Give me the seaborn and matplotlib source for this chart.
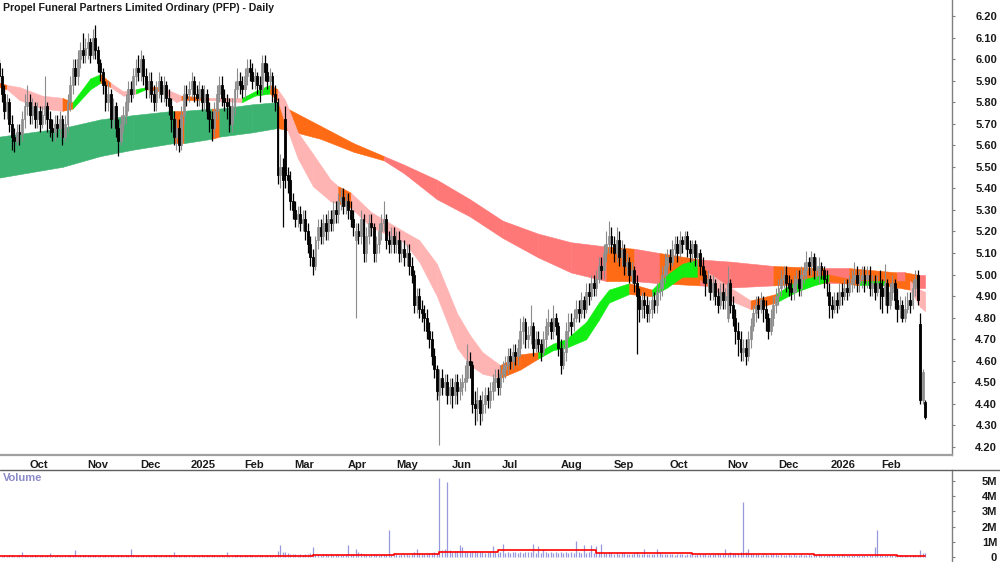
import numpy as np
import pandas as pd
import seaborn as sns
import matplotlib
matplotlib.use("Agg")
import matplotlib.pyplot as plt
from matplotlib.lines import Line2D
from matplotlib.transforms import ScaledTranslation

title = "Propel Funeral Partners Limited Ordinary (PFP) - Daily"

# ASX trading days (public holidays removed)
holidays = ["2024-12-25", "2024-12-26", "2025-01-01", "2025-01-27", "2025-04-18",
            "2025-04-21", "2025-04-25", "2025-06-09", "2025-12-25", "2025-12-26",
            "2026-01-01", "2026-01-26"]
dates = pd.bdate_range("2024-09-16", "2026-02-26", freq="C", holidays=holidays)

# daily prices in cents, one row per month
close_c = [
    592, 584, 576, 580, 570, 564, 562, 566, 565, 572, 578,
    580, 574, 578, 572, 576, 570, 574, 578, 572, 568, 566, 570, 568, 572, 564, 570, 580, 588, 596, 592, 600, 604, 602,
    605, 608, 602, 610, 604, 598, 594, 588, 580, 584, 572, 578, 568, 562, 570, 574, 580, 586, 584, 592, 596,
    594, 600, 592, 586, 590, 584, 580, 586, 590, 584, 588, 582, 578, 572, 564, 568, 560, 574, 584, 582,
    586, 590, 584, 582, 586, 580, 584, 576, 572, 568, 576, 584, 588, 582, 580, 578, 570, 578, 586, 590, 588,
    586, 592, 596, 594, 590, 592, 588, 586, 598, 594, 590, 592, 584, 580, 546, 550, 544, 546, 544, 534,
    530, 526, 528, 524, 526, 520, 514, 508, 504, 516, 522, 518, 524, 520, 526, 524, 530, 528, 534, 536, 532,
    534, 530, 526, 522, 520, 518, 526, 510, 518, 524, 522, 510, 514, 520, 524, 526, 516, 514, 518,
    514, 516, 510, 512, 508, 510, 504, 500, 486, 490, 484, 482, 480, 474, 470, 462, 456, 446, 452, 448, 450, 444,
    448, 444, 450, 446, 448, 450, 452, 460, 458, 440, 438, 442, 436, 440, 444, 442, 446, 450, 452, 448,
    454, 456, 458, 462, 460, 464, 462, 466, 474, 478, 470, 472, 476, 466, 470, 468, 464, 470, 476, 478, 474, 480, 476,
    466, 458, 464, 474, 478, 476, 480, 484, 482, 488, 484, 492, 490, 496, 494, 498, 504, 502, 510, 514, 518,
    514, 510, 516, 508, 512, 504, 506, 500, 502, 496, 490, 484, 488, 486, 482, 484, 488, 486, 492, 494, 500, 504,
    508, 506, 512, 514, 510, 516, 514, 518, 512, 510, 514, 508, 510, 504, 500, 496, 498, 492, 496, 490, 486, 492, 488,
    490, 496, 486, 480, 474, 470, 464, 466, 462, 470, 476, 482, 486, 484, 488, 484, 480, 474, 480, 486,
    490, 494, 498, 500, 496, 494, 492, 496, 498, 494, 500, 502, 506, 504, 508, 502, 504, 504, 502, 498, 496,
    486, 484, 488, 486, 492, 490, 494, 492, 496, 498, 500, 496, 498, 500, 496, 500, 494, 496, 492, 496,
    494, 490, 496, 486, 492, 496, 488, 484, 486, 480, 484, 488, 486, 494, 498, 488, 442, 455, 434,
]
open_c = [
    598, 592, 584, 576, 580, 570, 564, 562, 566, 565, 572,
    578, 580, 574, 578, 572, 576, 570, 574, 578, 572, 568, 566, 570, 568, 572, 564, 570, 580, 588, 596, 592, 600, 604,
    602, 605, 608, 602, 610, 604, 598, 594, 588, 580, 584, 572, 578, 568, 562, 570, 574, 580, 586, 584, 592,
    596, 594, 600, 592, 586, 590, 584, 580, 586, 590, 584, 588, 582, 578, 572, 564, 568, 560, 574, 584,
    584, 586, 590, 584, 582, 586, 580, 584, 576, 572, 568, 576, 584, 588, 582, 580, 578, 570, 578, 586, 590,
    588, 586, 592, 596, 594, 590, 592, 588, 586, 598, 594, 590, 592, 584, 580, 546, 550, 572, 546, 544,
    534, 530, 526, 528, 524, 526, 520, 514, 508, 504, 516, 522, 518, 524, 520, 526, 524, 530, 528, 534, 536,
    532, 534, 530, 526, 516, 520, 518, 526, 510, 518, 524, 522, 510, 514, 520, 524, 526, 516, 514,
    518, 514, 516, 510, 512, 508, 510, 504, 500, 486, 490, 484, 482, 480, 474, 470, 462, 456, 444, 452, 448, 450,
    444, 448, 444, 450, 446, 448, 450, 452, 460, 458, 440, 438, 442, 436, 440, 444, 442, 446, 450, 452,
    448, 454, 456, 458, 462, 460, 464, 462, 466, 474, 478, 470, 472, 476, 466, 470, 468, 464, 470, 476, 478, 474, 480,
    476, 466, 458, 464, 474, 478, 476, 480, 484, 482, 488, 484, 492, 490, 496, 494, 498, 504, 502, 510, 514,
    518, 514, 510, 516, 508, 512, 504, 506, 500, 502, 496, 490, 484, 488, 486, 482, 484, 488, 486, 492, 494, 500,
    504, 508, 506, 512, 514, 510, 516, 514, 518, 512, 510, 514, 508, 510, 504, 500, 496, 498, 492, 496, 490, 486, 492,
    488, 480, 496, 486, 480, 474, 470, 464, 466, 462, 470, 476, 482, 486, 484, 488, 484, 480, 474, 480,
    486, 490, 494, 498, 500, 496, 494, 492, 496, 498, 494, 500, 502, 506, 504, 508, 502, 500, 504, 502, 498,
    492, 486, 484, 488, 486, 492, 490, 494, 492, 496, 498, 500, 496, 498, 500, 498, 500, 494, 496, 492,
    496, 494, 490, 496, 486, 492, 496, 488, 484, 486, 480, 484, 488, 486, 494, 500, 477, 442, 441,
]
high_c = [
    600, 596, 588, 584, 582, 574, 568, 570, 570, 576, 584,
    588, 584, 582, 580, 580, 578, 578, 592, 580, 576, 572, 574, 574, 576, 574, 574, 584, 592, 600, 600, 604, 608, 612,
    610, 612, 610, 614, 616, 606, 600, 596, 590, 590, 586, 582, 580, 572, 574, 578, 584, 590, 590, 596, 600,
    602, 604, 602, 596, 594, 594, 588, 590, 594, 592, 592, 590, 586, 582, 576, 572, 572, 578, 588, 588,
    590, 594, 592, 588, 590, 588, 588, 586, 580, 576, 580, 588, 592, 592, 586, 584, 582, 582, 590, 596, 594,
    592, 596, 600, 600, 598, 596, 594, 592, 602, 602, 598, 596, 594, 588, 582, 556, 554, 578, 550, 548,
    538, 534, 532, 532, 530, 530, 524, 518, 512, 518, 526, 526, 528, 528, 530, 530, 534, 534, 538, 540, 540,
    538, 538, 534, 530, 524, 524, 530, 528, 522, 528, 528, 524, 518, 524, 528, 534, 528, 520, 522,
    522, 520, 520, 516, 516, 514, 514, 508, 502, 494, 494, 488, 486, 484, 478, 474, 466, 458, 456, 456, 454, 454,
    452, 452, 454, 454, 452, 454, 458, 468, 464, 460, 446, 448, 444, 446, 448, 448, 450, 454, 456, 456,
    458, 460, 462, 466, 466, 468, 468, 470, 480, 481, 480, 476, 486, 478, 474, 474, 470, 474, 480, 484, 480, 486, 482,
    478, 470, 468, 478, 482, 482, 484, 488, 488, 492, 490, 496, 496, 500, 500, 502, 508, 508, 514, 520, 525,
    522, 518, 522, 520, 516, 514, 510, 508, 506, 504, 500, 494, 492, 492, 490, 488, 492, 492, 496, 498, 504, 510,
    512, 512, 516, 518, 518, 520, 518, 520, 520, 516, 516, 516, 514, 512, 508, 502, 502, 500, 500, 498, 494, 496, 496,
    494, 504, 498, 490, 484, 478, 474, 470, 470, 474, 480, 486, 490, 490, 492, 490, 488, 482, 484, 490,
    494, 498, 502, 504, 504, 500, 498, 500, 502, 502, 504, 506, 511, 508, 511, 510, 508, 508, 506, 504, 502,
    496, 490, 492, 492, 496, 496, 498, 498, 500, 502, 506, 504, 502, 504, 504, 504, 504, 500, 500, 500,
    502, 498, 505, 498, 496, 500, 498, 494, 490, 488, 490, 492, 492, 498, 502, 502, 482, 456, 442,
]
low_c = [
    588, 580, 572, 572, 566, 558, 557, 560, 560, 562, 568,
    574, 570, 570, 568, 568, 566, 568, 570, 566, 564, 562, 562, 564, 564, 560, 562, 566, 576, 584, 588, 588, 596, 598,
    598, 600, 598, 600, 600, 594, 590, 584, 576, 576, 568, 568, 564, 555, 560, 566, 570, 576, 580, 582, 588,
    590, 590, 588, 582, 582, 580, 576, 576, 582, 580, 580, 578, 574, 566, 560, 558, 557, 558, 570, 578,
    580, 582, 580, 578, 578, 576, 576, 572, 566, 562, 564, 572, 580, 578, 576, 572, 566, 566, 574, 582, 584,
    582, 582, 588, 590, 586, 586, 584, 580, 584, 590, 586, 586, 580, 576, 542, 540, 522, 540, 538, 530,
    526, 522, 522, 520, 520, 516, 510, 504, 500, 502, 512, 514, 514, 516, 516, 520, 520, 524, 524, 530, 528,
    528, 526, 522, 518, 480, 514, 514, 506, 506, 514, 518, 506, 506, 510, 516, 520, 512, 510, 510,
    510, 510, 506, 506, 504, 504, 500, 496, 482, 482, 480, 478, 474, 470, 466, 458, 452, 442, 421, 444, 444, 440,
    440, 438, 440, 440, 442, 444, 446, 450, 452, 436, 430, 432, 430, 432, 436, 438, 438, 442, 446, 444,
    444, 450, 452, 454, 456, 456, 458, 458, 462, 468, 466, 466, 468, 462, 464, 464, 460, 462, 466, 472, 470, 470, 472,
    462, 454, 456, 460, 470, 472, 474, 478, 478, 480, 480, 482, 486, 488, 490, 490, 496, 498, 498, 506, 510,
    510, 506, 506, 504, 504, 500, 500, 496, 496, 492, 463, 478, 480, 480, 478, 478, 480, 482, 482, 488, 490, 496,
    500, 502, 504, 508, 506, 508, 510, 512, 508, 506, 506, 504, 504, 500, 496, 490, 492, 488, 488, 486, 482, 484, 484,
    484, 478, 482, 476, 468, 462, 460, 460, 458, 460, 466, 474, 478, 480, 482, 478, 474, 470, 472, 476,
    482, 486, 490, 494, 492, 490, 488, 488, 492, 490, 490, 496, 498, 500, 500, 498, 498, 496, 498, 494, 490,
    480, 480, 482, 482, 484, 486, 488, 488, 490, 492, 494, 492, 492, 494, 492, 494, 490, 490, 488, 490,
    484, 482, 486, 482, 484, 488, 484, 478, 480, 478, 478, 482, 482, 484, 490, 486, 440, 440, 433,
]
# volume in thousands of shares
volume_k = [
    120, 90, 110, 80, 100, 140, 90, 70, 100, 350, 110,
    90, 80, 100, 120, 70, 90, 110, 80, 100, 240, 90, 80, 110, 70, 90, 100, 130, 120, 110, 450, 90, 100, 120,
    130, 150, 110, 160, 120, 90, 100, 80, 110, 90, 130, 100, 80, 150, 120, 90, 110, 100, 500, 120, 80,
    110, 90, 120, 80, 100, 90, 110, 130, 80, 100, 90, 120, 100, 140, 300, 110, 130, 90, 100, 80,
    60, 80, 100, 90, 70, 110, 80, 100, 90, 120, 100, 80, 90, 110, 70, 300, 90, 80, 110, 100, 120,
    90, 110, 80, 100, 120, 90, 80, 110, 100, 90, 120, 100, 140, 160, 400, 780, 300, 350, 250, 200,
    200, 180, 150, 220, 160, 190, 170, 250, 670, 200, 180, 150, 220, 170, 160, 190, 140, 180, 210, 160, 150,
    200, 800, 180, 220, 500, 300, 250, 180, 200, 160, 190, 220, 170, 150, 180, 200, 170, 1800, 200,
    160, 180, 150, 200, 170, 190, 160, 220, 300, 550, 250, 200, 180, 220, 260, 240, 300, 280, 5200, 450, 500, 4950,
    450, 350, 400, 380, 800, 650, 420, 300, 350, 400, 380, 320, 300, 360, 280, 340, 300, 700, 320, 280,
    300, 830, 260, 320, 280, 300, 350, 260, 300, 280, 320, 300, 300, 870, 280, 700, 260, 500, 300, 280, 320, 260, 300,
    280, 300, 260, 320, 280, 300, 260, 1050, 300, 250, 760, 280, 300, 780, 260, 720, 300, 830, 280, 260, 300,
    250, 220, 280, 200, 240, 260, 180, 220, 200, 240, 300, 220, 200, 550, 180, 220, 200, 180, 550, 240, 200, 180,
    200, 220, 180, 160, 200, 180, 220, 160, 180, 200, 240, 160, 180, 200, 220, 180, 160, 200, 180, 220, 240, 200, 180,
    500, 220, 300, 280, 240, 260, 300, 3600, 350, 550, 240, 200, 180, 220, 160, 180, 200, 160, 220, 180,
    180, 160, 200, 140, 160, 180, 150, 170, 130, 160, 180, 140, 150, 170, 130, 160, 140, 170, 130, 120, 140,
    130, 160, 140, 120, 150, 170, 130, 140, 160, 120, 150, 130, 140, 160, 120, 150, 140, 160, 650, 1800,
    200, 150, 130, 160, 140, 120, 150, 130, 100, 120, 140, 110, 130, 120, 100, 130, 450, 240, 250,
]

# long-term moving average ribbon (bar index, upper, lower, state of following stretch)
long_idx = [0, 25, 40, 53, 69, 73, 84, 87, 100, 110, 114, 127, 140, 152, 160, 173, 186, 199, 213, 226,
            240, 251, 261, 277, 289, 306, 326, 336, 355, 358, 363, 366]
long_top = [5.64, 5.68, 5.72, 5.74, 5.76, 5.76, 5.77, 5.77, 5.79, 5.80, 5.77, 5.69, 5.61, 5.55, 5.51, 5.44,
            5.35, 5.25, 5.19, 5.15, 5.13, 5.12, 5.10, 5.07, 5.06, 5.04, 5.03, 5.03, 5.01, 5.01, 5.00, 5.00]
long_bot = [5.45, 5.50, 5.55, 5.58, 5.61, 5.61, 5.63, 5.64, 5.66, 5.68, 5.67, 5.63, 5.57, 5.53, 5.47, 5.35,
            5.27, 5.17, 5.08, 5.01, 4.97, 4.97, 4.96, 4.95, 4.94, 4.95, 4.96, 4.96, 4.95, 4.95, 4.94, 4.94]
long_state = "GGGGOGOGGOOOORRRRRRRORORROROROR"

# short-term moving average ribbon
short_idx = [0, 3, 8, 17, 25, 29, 36, 40, 44, 49, 54, 58, 64, 70, 72, 83, 96, 101, 107, 110,
             113, 118, 124, 131, 134, 139, 147, 160, 166, 173, 181, 186, 191, 198, 206, 213, 219, 224, 232, 237,
             241, 249, 258, 264, 270, 276, 280, 289, 297, 307, 315, 322, 328, 340, 350, 360, 364, 366]
short_top = [5.89, 5.88, 5.87, 5.83, 5.82, 5.80, 5.91, 5.93, 5.89, 5.85, 5.86, 5.87, 5.87, 5.84, 5.83, 5.82,
             5.82, 5.85, 5.88, 5.86, 5.81, 5.66, 5.56, 5.44, 5.41, 5.38, 5.29, 5.20, 5.16, 5.05, 4.82, 4.72,
             4.64, 4.58, 4.63, 4.64, 4.68, 4.70, 4.78, 4.87, 4.93, 4.96, 4.93, 5.00, 5.05, 5.07, 5.01, 4.94,
             4.88, 4.91, 4.97, 4.99, 5.00, 4.97, 4.97, 4.97, 4.93, 4.92]
short_bot = [5.87, 5.86, 5.81, 5.77, 5.76, 5.77, 5.86, 5.89, 5.87, 5.83, 5.84, 5.86, 5.85, 5.80, 5.81, 5.81,
             5.80, 5.83, 5.84, 5.81, 5.70, 5.54, 5.41, 5.34, 5.33, 5.31, 5.22, 5.15, 5.06, 4.90, 4.66, 4.58,
             4.54, 4.52, 4.56, 4.61, 4.65, 4.66, 4.70, 4.79, 4.87, 4.91, 4.90, 4.94, 4.99, 4.99, 4.95, 4.88,
             4.84, 4.87, 4.92, 4.95, 4.97, 4.95, 4.95, 4.93, 4.85, 4.83]
short_state = "opppoggopp" "goppopggop" "ppppoppppp" "pppooggggg" "gogggoppog" "ggogopp"

# volume moving average (steps)
vma_idx = [0, 124, 156, 174, 197, 236, 274, 300, 322, 355, 366]
vma_m = [0.08, 0.11, 0.17, 0.33, 0.43, 0.28, 0.22, 0.20, 0.15, 0.07, 0.07]

close = np.array(close_c) / 100
open_ = np.array(open_c) / 100
high = np.array(high_c) / 100
low = np.array(low_c) / 100
vol = np.array(volume_k) / 1000
n = len(dates)
for arr in (close, open_, high, low, vol):
    assert len(arr) == n, (len(arr), n)
assert len(long_state) == len(long_idx) - 1
assert len(short_state) == len(short_idx) - 1

sns.set_style("white")
plt.rcParams["font.family"] = ["Liberation Sans", "DejaVu Sans"]

long_pal = {"G": "#3cb371", "O": "#ff6a14", "R": "#ff7878"}
short_pal = {"g": "#11ee11", "o": "#ff6a14", "p": "#ffb4b4"}

fig = plt.figure(figsize=(10, 5.62), dpi=100)
ax = fig.add_axes([0, 1 - 455 / 562, 0.952, 455 / 562])
axv = fig.add_axes([0, 0, 0.952, 92 / 562])


def ribbon(a, idx, top, bot, states, pal):
    for i in range(len(idx) - 1):
        c = pal[states[i]]
        a.fill_between(idx[i:i + 2], top[i:i + 2], bot[i:i + 2], color=c, lw=0.4, edgecolor=c)


ribbon(ax, long_idx, long_top, long_bot, long_state, long_pal)
ribbon(ax, short_idx, short_top, short_bot, short_state, short_pal)

x = np.arange(n)
up = close >= open_
dn = ~up
ax.vlines(x[up], low[up], high[up], color="#8c8c8c", lw=0.8)
ax.vlines(x[dn], low[dn], high[dn], color="black", lw=0.9)
ax.bar(x[up], close[up] - open_[up], bottom=open_[up], width=0.75,
       color="white", edgecolor="#8c8c8c", lw=0.6)
ax.bar(x[dn], open_[dn] - close[dn], bottom=close[dn], width=0.75,
       color="black", edgecolor="black", lw=0.6)

axv.vlines(x, 0, vol, color="#9898dc", lw=0.9)
sns.lineplot(x=vma_idx, y=vma_m, ax=axv, color="#ff0000", lw=1.2, drawstyle="steps-post")

xlim = (0.3, 376.6)
for a in (ax, axv):
    a.set_xlim(*xlim)
    a.yaxis.tick_right()
    a.spines["left"].set_visible(False)
    a.spines["top"].set_visible(False)
    a.spines["right"].set_color("#7f7f7f")
    a.spines["right"].set_linewidth(1.0)
    a.tick_params(axis="y", length=2.5, color="#7f7f7f", pad=30, labelsize=8)
    a.set_xlabel("")
    a.set_ylabel("")

ax.set_ylim(4.163, 6.274)
pticks = np.round(np.arange(4.2, 6.21, 0.1), 2)
ax.set_yticks(pticks)
ax.set_yticklabels([f"{p:.2f}" for p in pticks])

axv.set_ylim(-0.33, 5.72)
axv.set_yticks([0, 1, 2, 3, 4, 5])
axv.set_yticklabels(["0", "1M", "2M", "3M", "4M", "5M"])
axv.spines["bottom"].set_visible(False)
axv.set_xticks([])

for a in (ax, axv):
    for lbl in a.get_yticklabels():
        lbl.set_horizontalalignment("right")
        lbl.set_fontweight("bold")
        lbl.set_color("#1a1a1a")

# month labels
months = dates.to_period("M")
starts = [i for i in range(1, n) if months[i] != months[i - 1]]
labels = [str(dates[i].year) if dates[i].month == 1 else dates[i].strftime("%b") for i in starts]
ax.set_xticks(starts)
ax.set_xticklabels(labels)
ax.tick_params(axis="x", length=3, color="#8c8c8c", pad=0.5, labelsize=8)
off = ScaledTranslation(2 / 100, 0, fig.dpi_scale_trans)
for lbl in ax.get_xticklabels():
    lbl.set_horizontalalignment("left")
    lbl.set_fontweight("bold")
    lbl.set_color("#1a1a1a")
    lbl.set_transform(lbl.get_transform() + off)
ax.spines["bottom"].set_color("#a0a0a0")
ax.spines["bottom"].set_linewidth(1.6)

fig.add_artist(Line2D([0, 1], [1 - 469.5 / 562] * 2, transform=fig.transFigure,
                      color="#606060", lw=1.0))

fig.text(3 / 1000, 1 - 8 / 562, title, ha="left", va="center", fontsize=7.6,
         fontweight="bold", color="#1a1a1a")
fig.text(3 / 1000, 1 - 478 / 562, "Volume", ha="left", va="center", fontsize=8,
         fontweight="bold", color="#8a8ac8")

fig.savefig("out.png", dpi=100)
